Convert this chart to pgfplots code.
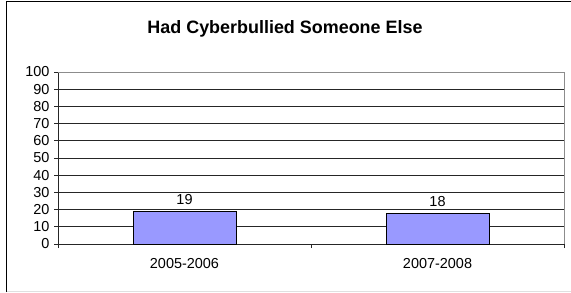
\documentclass[border=0pt]{standalone}
\usepackage{pgfplots}
\pgfplotsset{compat=1.18}
\usepackage{fontspec}
\setmainfont{Liberation Sans}
\definecolor{barfill}{RGB}{153,153,255}
\begin{document}
\begin{tikzpicture}[x=1bp,y=1bp]
\useasboundingbox (0,0) rectangle (571,292);
\draw[black,line width=1.5bp] (6.5,0) -- (6.5,290.5) -- (571,290.5);
\draw[black!12,line width=1bp] (6.5,0.5) -- (571,0.5);
\node[font=\bfseries\fontsize{18}{20}\selectfont] at (285,263) {Had Cyberbullied Someone Else};
\begin{axis}[
  at={(58bp,48bp)}, anchor=south west,
  scale only axis, width=506bp, height=172bp,
  xmin=-0.5, xmax=1.5, ymin=0, ymax=100,
  axis lines=left, axis line style={black!85, line width=0.8bp, -},
  xtick={0,1}, xticklabels={2005-2006,2007-2008},
  major x tick style={draw=none},
  minor xtick={-0.5,0.5,1.5},
  minor x tick style={black!85, line width=0.8bp},
  ytick={0,10,...,100},
  tick align=outside, major tick length=4bp, minor tick length=4bp,
  y tick style={black!85, line width=0.8bp},
  ymajorgrids, grid style={black!85, line width=0.8bp},
  tick label style={font=\fontsize{14.5}{16}\selectfont},
  xticklabel style={yshift=-7bp},
  yticklabel style={xshift=-1bp},
  /pgf/number format/assume math mode=true,
  ybar, bar width=103bp,
  nodes near coords,
  nodes near coords style={font=\fontsize{14.5}{16}\selectfont, yshift=3bp},
  clip=false,
]
\addplot[fill=barfill, draw=black, line width=0.8bp] coordinates {(0,19) (1,18)};
\draw[black!45, line width=0.8bp] (rel axis cs:0,1) -- (rel axis cs:1,1) -- (rel axis cs:1,0);
\end{axis}
\end{tikzpicture}
\end{document}
